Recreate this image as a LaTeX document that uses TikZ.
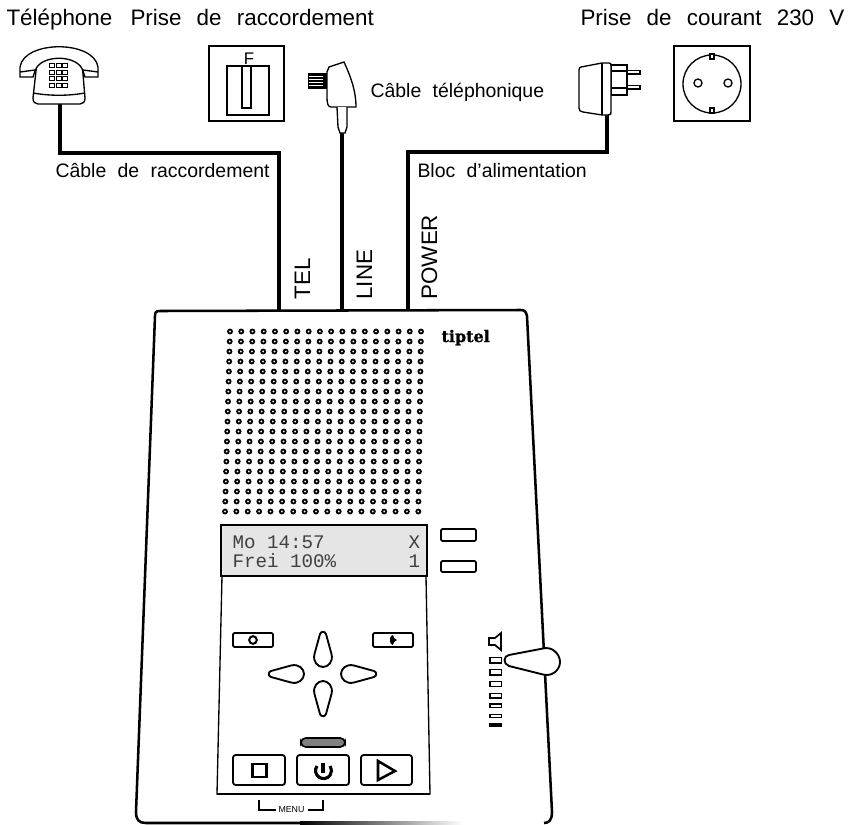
\documentclass[tikz,border=0pt]{standalone}
\usepackage{fontspec}
\setmainfont{Liberation Sans}
\newfontfamily\lcdfont{Liberation Mono}
\newfontfamily\brandfont[BoldFeatures={FakeBold=1.2}]{DejaVu Serif}
\usepackage{tikz}
\newcommand{\widewords}{\spaceskip=0.58em\relax}
\newcommand{\widerwords}{\spaceskip=0.68em\relax}
\tikzset{every picture/.style={line width=0.75pt}}
\tikzset{
  cable/.style={line width=2.6pt,line cap=rect},
  thinline/.style={line width=1pt},
  caseline/.style={line width=1.9pt,line join=round},
  keyline/.style={line width=1.4pt,line join=round,fill=white},
  biglabel/.style={anchor=base west,inner sep=0.75pt,font=\fontsize{16.8}{18}\selectfont\widerwords},
  midlabel/.style={anchor=base west,inner sep=0.75pt,font=\fontsize{14.6}{16}\selectfont\widewords},
  lcdtext/.style={anchor=base west,inner sep=0pt,text=black!75,font=\lcdfont\fontsize{14.4}{16}\selectfont},
  tearkey/.pic={\draw[keyline] (-3,-2) .. controls (-2,1) and (2,1) .. (3,-2) -- (8.5,-22) .. controls (10.5,-30) and (5,-35) .. (0,-35) .. controls (-5,-35) and (-10.5,-30) .. (-8.5,-22) -- cycle;}
}
\begin{document}
\begin{tikzpicture}[x=0.75pt,y=0.75pt,yscale=-1,xscale=1]
\useasboundingbox (0,0) rectangle (854,825);

%Cables
\coordinate (phoneout) at (60,104);
\coordinate (phonebend) at (60,153);
\coordinate (telport) at (279,308);
\coordinate (plugout) at (342,133);
\coordinate (lineport) at (342,308);
\coordinate (adapterout) at (607,115);
\coordinate (adapterbend) at (607,152);
\coordinate (powerport) at (408,308);
\draw [cable] (phoneout) -- (phonebend) -| (telport);
\draw [cable,line width=2.3pt] (plugout) -- (lineport);
\draw [cable] (adapterout) -- (adapterbend) -| (powerport);

%Shape: Telephone
\draw [thinline,fill=white] (37,62) .. controls (46,55) and (73,55) .. (82,62) -- (85,98) .. controls (85,102) and (83,104) .. (80,104) -- (38,104) .. controls (35,104) and (33,102) .. (33,98) -- cycle;
\draw [thinline] (33,93) .. controls (50,96) and (68,96) .. (85,93);
\draw [thinline,fill=white] (20,77) -- (20,67) .. controls (24,40) and (94,40) .. (98,67) -- (98,77) -- (85,77) -- (83,71) .. controls (78,54) and (40,54) .. (35,71) -- (33,77) -- cycle;
\draw [thinline] (20,72) -- (35,70) (98,72) -- (83,70);
\foreach \kx in {49.5,56,62.5}
  \foreach \ky in {63.5,70,76.5,83}
    \draw [line width=0.6pt] (\kx,\ky) rectangle ++(5,4);

%Shape: Wall jack
\draw [thinline] (209,46) rectangle (284,121);
\draw [thinline] (227,66) rectangle (269,115);
\draw [thinline] (242,66) rectangle (251,108);
\draw (249,64) node (lblF) [anchor=base,inner sep=0pt,font=\fontsize{12.6}{16}\selectfont] {F};

%Shape: Phone plug
\draw [line width=1pt,fill=black] (309,74) rectangle (327,88);
\foreach \py in {76,79,82,85}
  \draw [white,line width=0.7pt] (309,\py) -- (323,\py);
\draw [thinline,fill=white] (327,72) -- (329,67) -- (344,62) .. controls (350,75) and (356,90) .. (356,107) -- (331,107) .. controls (328,107) and (327,103) .. (327,98) -- cycle;
\draw [thinline,fill=white] (337,107) -- (338,127) -- (340,133) -- (345,133) -- (347,127) -- (347,107);

%Shape: Power adapter
\draw [thinline,fill=white] (611,65) rectangle (627,95);
\draw [line width=0.8pt,fill=white] (627,70.7) rectangle (640,74) (627,85.7) rectangle (640,89);
\draw [thinline] (611,71) -- (627,71) (611,88) -- (627,88);
\draw [thinline,fill=white] (581,67) -- (602,63) -- (609,63) .. controls (611,63) and (611,64) .. (611,66) -- (611,112) .. controls (611,114) and (611,115) .. (608,115) -- (602,115) -- (583,112) .. controls (580,112) and (579,110) .. (579,108) -- (579,70) .. controls (579,68) and (580,67) .. (581,67) -- cycle;
\draw [thinline] (602,63) -- (602,115);

%Shape: Mains socket
\draw [thinline] (674,46) rectangle (750,121);
\draw [thinline] (712,84) circle [radius=29];
\draw [thinline] (698,83) circle [radius=4];
\draw [thinline] (728,83) circle [radius=4];
\draw [thinline,fill=white] (710,54) rectangle (714,59);
\draw [thinline,fill=white] (710,108) rectangle (714,113);

%Shape: Device case
\draw [caseline] (544,823) .. controls (549,823) and (552,820) .. (552,812) -- (527,316) .. controls (526,312) and (525,310) .. (521,310) -- (160,311) .. controls (156,311) and (155,312) .. (155,316) -- (136,812) .. controls (136,820) and (139,823) .. (146,823) -- (300,823);
\shade [left color=black,right color=white] (300,821.8) rectangle (463,824.2);

%Speaker grille
\foreach \row in {0,...,18}
  \foreach \col in {0,...,17}
  {
    \pgfmathsetmacro{\gx}{230-\row*5/18+\col*(191+\row*2.3/18)/17}
    \pgfmathsetmacro{\gy}{331.5+\row*10}
    \draw [line width=1.35pt] (\gx,\gy) circle [radius=2];
  }
\draw (441,342) node (brand) [anchor=base west,inner sep=0pt,font=\brandfont\bfseries\fontsize{12}{14}\selectfont] {tiptel};

%Display
\draw [thinline] (222,576) -- (217,794) -- (430,794) -- (426,576);
\draw [line width=1.5pt] (217,794) -- (430,794);
\draw [line width=1.4pt,fill=black!10] (221,525) rectangle (427,576);
\draw (232,548) node (lcdtime) [lcdtext] {Mo 14:57};
\draw (232,567) node (lcdfree) [lcdtext] {Frei 100\%};
\draw (408,548) node (lcdx) [lcdtext] {X};
\draw (408,567) node (lcdone) [lcdtext] {1};
\draw [keyline,rounded corners=1pt] (441,529) rectangle (476,541);
\draw [keyline,rounded corners=1pt] (441,561) rectangle (476,572);

%Keypad
\draw [keyline,rounded corners=1pt] (233,633) rectangle (273,647);
\draw [line width=1.5pt] (253,640) circle [radius=3.8];
\draw [keyline,rounded corners=1pt] (373,633) rectangle (413,647);
\fill (390,640) .. controls (390,636) and (392,635) .. (393,635) -- (394,638) -- (397,640) -- (394,642) -- (393,645) .. controls (392,645) and (390,644) .. (390,640) -- cycle;
\pic at (323,632) {tearkey};
\pic [rotate=180] at (323,716) {tearkey};
\pic [rotate=90] at (269,674) {tearkey};
\pic [rotate=-90] at (376,674) {tearkey};
\draw [line width=1.2pt,fill=black!50,rounded corners=3.5pt] (301,738) rectangle (345,747);

%Bottom keys
\draw [keyline,rounded corners=2pt] (233,755) rectangle (285,785);
\draw [line width=1.9pt] (252.5,764) rectangle (266.5,777);
\draw [keyline,rounded corners=2pt] (297,755) rectangle (349,785);
\draw [line width=2.3pt] (317,766) arc [start angle=215,end angle=-35,radius=8];
\draw [line width=2.6pt] (323,763) -- (323,773);
\draw [keyline,rounded corners=2pt] (361,755) rectangle (412,785);
\draw [line width=1.9pt] (378,761) -- (395,771) -- (378,780) -- cycle;

%Menu bracket
\coordinate (menuleft) at (259,800);
\coordinate (menuright) at (323,800);
\draw (291.5,810) node (menutxt) [inner sep=0pt,font=\fontsize{6.6}{8}\selectfont] {MENU};
\draw [line width=1.4pt] (menuleft) |- (276,810);
\draw [line width=1.4pt] (menuright) |- (308,810);

%Volume wheel
\draw [line width=1.3pt,fill=white] (489,638) -- (495,638) -- (501,633) -- (501,650) -- (495,645) -- (489,645) -- cycle;
\draw [line width=1.2pt] (490,657.5) rectangle (501.5,663);
\draw [line width=1.2pt] (490,669.5) rectangle (501.5,675);
\draw [line width=1.2pt] (490,681.5) rectangle (501.5,686.5);
\draw [line width=1.2pt] (490,693.5) rectangle (501.5,698);
\draw [line width=1.2pt] (490,704) rectangle (501.5,707.5);
\draw [line width=1.2pt] (490,714.5) rectangle (501.5,717.5);
\draw [line width=1.2pt] (490,724) rectangle (501.5,726);
\draw [keyline] (509,655) -- (543,648.5) .. controls (552,646) and (560,654) .. (560,662) .. controls (560,670) and (552,677) .. (543,674.5) -- (509,666) .. controls (503,664) and (503,656) .. (509,655) -- cycle;

% Text Node
\draw (5,25) node (lblphone) [biglabel] {Téléphone};
% Text Node
\draw (129,25) node (lbljack) [biglabel] {Prise de raccordement};
% Text Node
\draw (579,25) node (lblmains) [biglabel] {Prise de courant 230 V};
% Text Node
\draw (369,97) node (lblline) [midlabel] {Câble téléphonique};
% Text Node
\draw (54,177) node (lblcord) [midlabel] {Câble de raccordement};
% Text Node
\draw (416,177) node (lblpsu) [midlabel] {Bloc d'alimentation};
% Text Node
\draw (310,301) node (lbltel) [biglabel,rotate=90] {TEL};
% Text Node
\draw (372,301) node (lblline2) [biglabel,rotate=90] {LINE};
% Text Node
\draw (437,301) node (lblpower) [biglabel,rotate=90] {POWER};

\end{tikzpicture}
\end{document}
